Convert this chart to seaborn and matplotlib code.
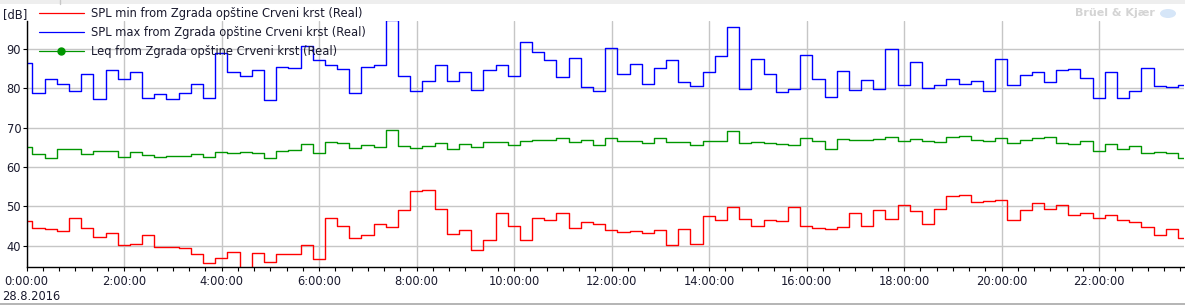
import numpy as np
import pandas as pd
import matplotlib
matplotlib.use("Agg")
import matplotlib.pyplot as plt
import matplotlib.dates as mdates
from matplotlib.lines import Line2D
from matplotlib.legend_handler import HandlerLine2D
from matplotlib.patches import Rectangle, Ellipse
import seaborn as sns

# ---------------- data (15-minute intervals) ----------------
interval_start = "2016-08-27 23:52"
interval_minutes = 15

spl_max = [86.4, 78.8, 82.4, 81.1, 79.3, 83.6, 77.3, 84.7, 82.4, 84.2, 77.5, 78.6, 77.3, 78.8, 81.1, 77.5,
           89.0, 84.0, 83.1, 84.7, 76.9, 85.5, 85.2, 90.7, 87.2, 85.9, 84.9, 78.8, 85.5, 85.9, 97.2, 83.1,
           79.4, 81.9, 85.9, 81.9, 84.2, 79.6, 84.7, 85.9, 83.1, 91.8, 89.2, 87.2, 82.9, 87.7, 80.3, 79.4,
           90.3, 83.6, 86.2, 81.1, 85.2, 87.2, 81.7, 80.6, 84.0, 88.2, 95.6, 79.8, 87.5, 83.6, 79.1, 79.8,
           88.5, 82.4, 77.8, 84.4, 79.6, 82.1, 79.8, 90.0, 80.8, 86.7, 80.1, 80.8, 82.4, 81.1, 81.9, 79.3,
           87.5, 80.8, 83.4, 84.0, 81.6, 84.7, 84.9, 82.6, 77.5, 84.0, 77.5, 79.4, 85.2, 80.6, 80.3, 80.8]

leq = [65.1, 63.3, 62.3, 64.6, 64.6, 63.3, 64.2, 64.2, 62.6, 63.8, 63.1, 62.6, 62.9, 62.9, 63.3, 62.6,
       63.8, 63.6, 63.8, 63.6, 62.3, 64.1, 64.4, 65.8, 63.6, 66.4, 66.0, 64.9, 65.6, 65.2, 69.5, 65.4,
       64.8, 65.4, 66.1, 64.6, 65.8, 65.2, 66.4, 66.4, 65.6, 66.6, 66.9, 66.9, 67.4, 66.4, 66.9, 65.6,
       67.4, 66.6, 66.6, 66.1, 67.4, 66.4, 66.4, 65.6, 66.6, 66.6, 69.2, 66.1, 66.4, 66.1, 65.8, 65.6,
       67.4, 66.6, 64.6, 67.1, 66.9, 66.9, 67.1, 67.6, 66.6, 67.1, 66.6, 66.4, 67.6, 67.9, 66.9, 66.6,
       67.4, 66.1, 66.9, 67.4, 67.6, 66.1, 65.8, 66.6, 64.1, 65.8, 64.6, 65.3, 63.6, 63.8, 63.6, 62.3]

spl_min = [46.4, 44.5, 44.2, 43.7, 47.0, 44.5, 42.2, 43.2, 40.2, 40.4, 42.7, 39.7, 39.7, 39.4, 37.9, 35.6,
           36.9, 38.4, 33.0, 38.1, 35.8, 37.9, 37.9, 40.2, 36.6, 47.0, 45.0, 42.0, 42.7, 45.5, 44.7, 49.1,
           53.9, 54.2, 49.3, 43.0, 44.0, 38.9, 41.4, 48.3, 45.0, 41.4, 47.0, 46.5, 48.3, 44.5, 46.0, 45.5,
           44.0, 43.5, 43.7, 43.2, 44.0, 40.2, 44.2, 40.4, 47.5, 46.5, 49.8, 46.8, 45.0, 46.5, 46.3, 49.8,
           45.0, 44.5, 44.2, 44.7, 48.3, 45.0, 49.1, 46.8, 50.3, 48.8, 45.5, 49.3, 52.6, 52.9, 51.1, 51.4,
           51.6, 46.5, 49.1, 50.8, 49.3, 50.3, 47.8, 48.3, 47.0, 47.8, 46.5, 46.0, 44.7, 42.7, 44.2, 42.0]

series_names = ["SPL min from Zgrada opštine Crveni krst (Real)",
                "SPL max from Zgrada opštine Crveni krst (Real)",
                "Leq from Zgrada opštine Crveni krst (Real)"]
series_colors = ["#ff0000", "#0000ff", "#009600"]
y_ticks = [40, 50, 60, 70, 80, 90]
date_label = "28.8.2016"

# ---------------- build long table ----------------
times = pd.date_range(interval_start, periods=len(spl_max) + 1, freq=f"{interval_minutes}min")
frames = []
for name, vals in zip(series_names, [spl_min, spl_max, leq]):
    v = list(vals) + [vals[-1]]  # extend last step to the end of its interval
    frames.append(pd.DataFrame({"time": times, "value": v, "series": name}))
df = pd.concat(frames, ignore_index=True)

# ---------------- figure ----------------
sns.set_style("ticks")
plt.rcParams["font.family"] = ["DejaVu Sans"]

W, H = 1185, 305
fig = plt.figure(figsize=(W / 100, H / 100), dpi=100)
ax = fig.add_axes([26.7 / W, 1 - 266.7 / H, (1184 - 26.7) / W, (266.7 - 20.8) / H])

sns.lineplot(data=df, x="time", y="value", hue="series", palette=series_colors,
             hue_order=series_names, drawstyle="steps-post", linewidth=1.0,
             legend=False, ax=ax, estimator=None, sort=True)

x0 = pd.Timestamp("2016-08-28 00:00")
ax.set_xlim(x0, x0 + pd.Timedelta(minutes=1424.4))
ax.set_ylim(34.73, 97.1)
ax.set_yticks(y_ticks)
ax.set_xlabel("")
ax.set_ylabel("")

ax.xaxis.set_major_locator(mdates.HourLocator(byhour=range(0, 24, 2)))
ax.xaxis.set_minor_locator(mdates.MinuteLocator(byminute=[0, 20, 40]))


def fmt(x, pos):
    d = mdates.num2date(x)
    return f"{d.hour}:{d.minute:02d}:{d.second:02d}"


ax.xaxis.set_major_formatter(plt.FuncFormatter(fmt))

ax.grid(True, which="major", color="#c6c6c6", linewidth=1.0)
for s in ["top", "right"]:
    ax.spines[s].set_visible(False)
for s in ["left", "bottom"]:
    ax.spines[s].set_color("black")
    ax.spines[s].set_linewidth(1.0)

ax.tick_params(axis="x", which="both", direction="out", length=3, width=0.8,
               pad=3, labelsize=8.3, colors="black")
ax.tick_params(axis="y", which="both", direction="out", length=3, width=0.8,
               pad=1, labelsize=8.3, colors="black")
for lab in ax.get_xticklabels() + ax.get_yticklabels():
    lab.set_color("#1a1a2e")


# ---------------- legend ----------------
class LeftMarkerHandler(HandlerLine2D):
    def get_xdata(self, legend, xdescent, ydescent, width, height, fontsize):
        xdata = np.array([-xdescent, -xdescent + width])
        return xdata, np.array([-xdescent + 1.0])


handles = [Line2D([], [], color=series_colors[0], lw=0.9),
           Line2D([], [], color=series_colors[1], lw=0.9),
           Line2D([], [], color=series_colors[2], lw=0.9, marker="o", markersize=5)]
leg = fig.legend(handles, series_names, loc="upper left",
                 bbox_to_anchor=(39 / W, 1 - 7.5 / H), frameon=False,
                 fontsize=8.3, handlelength=3.9, handletextpad=0.6,
                 labelspacing=0.48, borderpad=0, borderaxespad=0,
                 handler_map={handles[2]: LeftMarkerHandler()})
for t in leg.get_texts():
    t.set_color("#1a1a2e")

# ---------------- extra text / decorations ----------------
fig.text(3 / W, 1 - 14.3 / H, "[dB]", fontsize=8.3, va="center", ha="left", color="#1a1a2e")
fig.text(2 / W, 1 - 296 / H, date_label, fontsize=8.3, va="center", ha="left", color="#1a1a2e")
fig.text(1155 / W, 1 - 13.5 / H, "Brüel & Kjær", fontsize=8, fontweight="bold",
         va="center", ha="right", color="#d4d4d4")
fig.patches.append(Ellipse((1168 / W, 1 - 13.5 / H), 16 / W, 9 / H, transform=fig.transFigure,
                           facecolor="#d6e6f8", edgecolor="none"))
fig.patches.append(Rectangle((0, 1 - 4 / H), 1, 4 / H, transform=fig.transFigure,
                             facecolor="#eeeeee", edgecolor="none"))
fig.lines.append(Line2D([60 / W, 60 / W], [1 - 4 / H, 1], transform=fig.transFigure,
                        color="#c8c8c8", lw=1))
fig.lines.append(Line2D([0, 1], [1 - 303.5 / H, 1 - 303.5 / H], transform=fig.transFigure,
                        color="#a8a8a8", lw=1.2))

fig.savefig("out.png", dpi=100)
